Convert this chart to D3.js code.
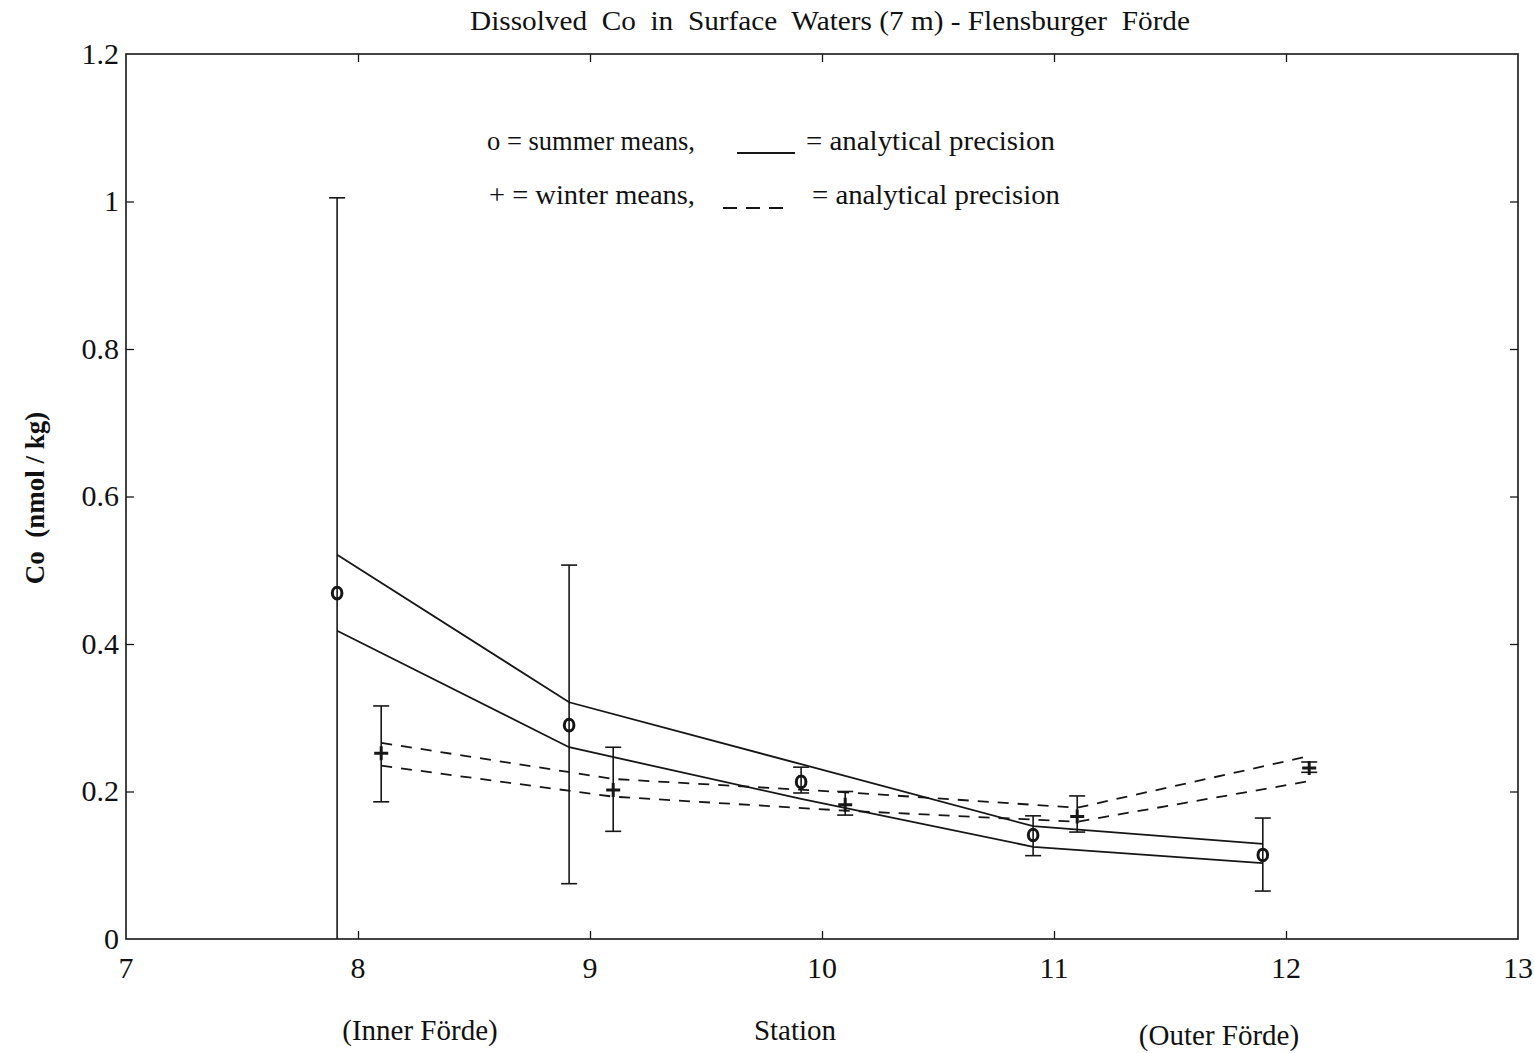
<!DOCTYPE html>
<html>
<head>
<meta charset="utf-8">
<script src="https://cdn.jsdelivr.net/npm/d3@7"></script>
<style>
  html, body { margin: 0; padding: 0; background: #fff; }
  svg { display: block; }
  text { font-family: "Liberation Serif", "DejaVu Serif", serif; fill: #111; white-space: pre; }
</style>
</head>
<body>
<svg id="chart" width="1534" height="1053"></svg>
<script>
// ---------------- data ----------------
const stations = [8, 9, 10, 11, 12];
const xTicks = [7, 8, 9, 10, 11, 12, 13];
const yTicks = [0, 0.2, 0.4, 0.6, 0.8, 1, 1.2];
const yTickLabels = ["0", "0.2", "0.4", "0.6", "0.8", "1", "1.2"];

// summer means (circles), plotted slightly left of each station
const summerX    = [7.91, 8.91, 9.91, 10.91, 11.90];
const summerMean = [0.469, 0.290, 0.213, 0.141, 0.114];
const summerLow  = [0.000, 0.075, 0.198, 0.113, 0.065];
const summerHigh = [1.005, 0.507, 0.233, 0.167, 0.164];
// summer analytical precision band (solid lines)
const summerPrecUpper = [0.521, 0.321, 0.237, 0.153, 0.129];
const summerPrecLower = [0.418, 0.260, 0.190, 0.125, 0.103];

// winter means (plus), plotted slightly right of each station
const winterX    = [8.10, 9.10, 10.10, 11.10, 12.10];
const winterMean = [0.252, 0.202, 0.182, 0.166, 0.232];
const winterLow  = [0.186, 0.146, 0.168, 0.145, 0.226];
const winterHigh = [0.316, 0.260, 0.200, 0.194, 0.240];
// winter analytical precision band (dashed lines)
const winterPrecUpper = [0.266, 0.217, 0.199, 0.178, 0.248];
const winterPrecLower = [0.235, 0.193, 0.174, 0.159, 0.214];

const titleText = "Dissolved  Co  in  Surface  Waters (7 m) - Flensburger  Förde";
const yLabel = "Co  (nmol / kg)";
const xLabels = ["(Inner Förde)", "Station", "(Outer Förde)"];

// ---------------- layout ----------------
const svg = d3.select("#chart");
const L = 126, R = 1518, T = 54, B = 939;
const x = d3.scaleLinear().domain([7, 13]).range([L, R]);
const y = d3.scaleLinear().domain([0, 1.2]).range([B, T]);
const ink = "#161616";

// frame
svg.append("rect").attr("x", L).attr("y", T).attr("width", R - L).attr("height", B - T)
  .attr("fill", "none").attr("stroke", ink).attr("stroke-width", 1.6);

// axes with inward ticks
const tk = 8;
const inner = stations;
svg.append("g").attr("transform", `translate(0,${B})`)
  .call(d3.axisBottom(x).tickValues(inner).tickSize(-tk).tickFormat(""))
  .call(g => g.select(".domain").remove())
  .call(g => g.selectAll("line").attr("stroke", ink).attr("stroke-width", 1.3));
svg.append("g").attr("transform", `translate(0,${T})`)
  .call(d3.axisTop(x).tickValues(inner).tickSize(-tk).tickFormat(""))
  .call(g => g.select(".domain").remove())
  .call(g => g.selectAll("line").attr("stroke", ink).attr("stroke-width", 1.3));
const yInner = yTicks.slice(1, -1);
svg.append("g").attr("transform", `translate(${L},0)`)
  .call(d3.axisLeft(y).tickValues(yInner).tickSize(-tk).tickFormat(""))
  .call(g => g.select(".domain").remove())
  .call(g => g.selectAll("line").attr("stroke", ink).attr("stroke-width", 1.3));
svg.append("g").attr("transform", `translate(${R},0)`)
  .call(d3.axisRight(y).tickValues(yInner).tickSize(-tk).tickFormat(""))
  .call(g => g.select(".domain").remove())
  .call(g => g.selectAll("line").attr("stroke", ink).attr("stroke-width", 1.3));

// tick labels
svg.append("g").selectAll("text").data(xTicks).join("text")
  .attr("x", d => x(d)).attr("y", B + 39)
  .attr("text-anchor", "middle").attr("font-size", 30)
  .text(d => d);
svg.append("g").selectAll("text").data(yTicks).join("text")
  .attr("x", L - 7).attr("y", d => y(d)).attr("dy", "0.33em")
  .attr("text-anchor", "end").attr("font-size", 30)
  .text((d, i) => yTickLabels[i]);

// title
svg.append("text").attr("x", 470).attr("y", 30)
  .attr("font-size", 27).attr("textLength", 720).attr("lengthAdjust", "spacingAndGlyphs")
  .text(titleText);

// y label
svg.append("text")
  .attr("transform", `translate(44,${498}) rotate(-90)`)
  .attr("text-anchor", "middle").attr("font-size", 27).attr("font-weight", "bold")
  .text(yLabel);

// x labels
const xLabPos = [[420, 1040], [795, 1040], [1219, 1045]];
svg.append("g").selectAll("text").data(xLabels).join("text")
  .attr("x", (d, i) => xLabPos[i][0]).attr("y", (d, i) => xLabPos[i][1])
  .attr("text-anchor", "middle").attr("font-size", 29)
  .text(d => d);

// legend
const leg = svg.append("g").attr("font-size", 28);
leg.append("text").attr("x", 487).attr("y", 150).attr("textLength", 208).attr("lengthAdjust", "spacingAndGlyphs").text("o = summer means,");
leg.append("line").attr("x1", 737).attr("x2", 795).attr("y1", 153).attr("y2", 153).attr("stroke", ink).attr("stroke-width", 1.8);
leg.append("text").attr("x", 806).attr("y", 150).attr("textLength", 249).attr("lengthAdjust", "spacingAndGlyphs").text("= analytical precision");
leg.append("text").attr("x", 489).attr("y", 204).attr("textLength", 206).attr("lengthAdjust", "spacingAndGlyphs").text("+ = winter means,");
leg.append("line").attr("x1", 723).attr("x2", 785).attr("y1", 208).attr("y2", 208).attr("stroke", ink).attr("stroke-width", 1.8).attr("stroke-dasharray", "14,9");
leg.append("text").attr("x", 812).attr("y", 204).attr("textLength", 248).attr("lengthAdjust", "spacingAndGlyphs").text("= analytical precision");

// precision lines
const line = d3.line().x(d => x(d[0])).y(d => y(d[1]));
const plot = svg.append("g");
[summerPrecUpper, summerPrecLower].forEach(arr => {
  plot.append("path").datum(arr.map((v, i) => [summerX[i], v]))
    .attr("d", line).attr("fill", "none").attr("stroke", ink).attr("stroke-width", 1.8);
});
[winterPrecUpper, winterPrecLower].forEach(arr => {
  plot.append("path").datum(arr.map((v, i) => [winterX[i], v]))
    .attr("d", line).attr("fill", "none").attr("stroke", ink).attr("stroke-width", 1.8)
    .attr("stroke-dasharray", "11,9");
});

// error bars
const cap = 8;
function errorBars(xs, lo, hi, cls) {
  const g = plot.append("g").attr("class", cls).attr("stroke", ink).attr("stroke-width", 1.6);
  xs.forEach((xv, i) => {
    g.append("line").attr("x1", x(xv)).attr("x2", x(xv)).attr("y1", y(lo[i])).attr("y2", y(hi[i]));
    g.append("line").attr("x1", x(xv) - cap).attr("x2", x(xv) + cap).attr("y1", y(hi[i])).attr("y2", y(hi[i]));
    if (lo[i] > 0) g.append("line").attr("x1", x(xv) - cap).attr("x2", x(xv) + cap).attr("y1", y(lo[i])).attr("y2", y(lo[i]));
  });
}
errorBars(summerX, summerLow, summerHigh, "summer-err");
errorBars(winterX, winterLow, winterHigh, "winter-err");

// markers
plot.append("g").selectAll("ellipse").data(summerMean).join("ellipse")
  .attr("cx", (d, i) => x(summerX[i])).attr("cy", d => y(d))
  .attr("rx", 4.8).attr("ry", 5.8)
  .attr("fill", "none").attr("stroke", ink).attr("stroke-width", 3);
plot.append("g").selectAll("path").data(winterMean).join("path")
  .attr("d", (d, i) => {
    const cx = x(winterX[i]), cy = y(d), s = 7;
    return `M${cx - s},${cy}H${cx + s}M${cx},${cy - s}V${cy + s}`;
  })
  .attr("fill", "none").attr("stroke", ink).attr("stroke-width", 3);
</script>
</body>
</html>
